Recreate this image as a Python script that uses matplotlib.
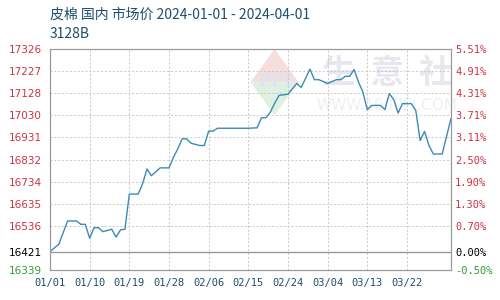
import matplotlib
matplotlib.use('Agg')
import matplotlib.pyplot as plt
import matplotlib.dates as mdates
from matplotlib.patches import Polygon
import pandas as pd

# data
dates = ['2024-01-01', '2024-01-03', '2024-01-04', '2024-01-05', '2024-01-07', '2024-01-08',
         '2024-01-09', '2024-01-10', '2024-01-11', '2024-01-12', '2024-01-13', '2024-01-15',
         '2024-01-16', '2024-01-17', '2024-01-18', '2024-01-19', '2024-01-21', '2024-01-22',
         '2024-01-23', '2024-01-24', '2024-01-26', '2024-01-28', '2024-01-29', '2024-01-30',
         '2024-01-31', '2024-02-01', '2024-02-02', '2024-02-04', '2024-02-05', '2024-02-06',
         '2024-02-07', '2024-02-08', '2024-02-15', '2024-02-17', '2024-02-18', '2024-02-19',
         '2024-02-20', '2024-02-21', '2024-02-22', '2024-02-24', '2024-02-26', '2024-02-27',
         '2024-02-29', '2024-03-01', '2024-03-02', '2024-03-04', '2024-03-06', '2024-03-07',
         '2024-03-08', '2024-03-09', '2024-03-10', '2024-03-11', '2024-03-12', '2024-03-13',
         '2024-03-14', '2024-03-16', '2024-03-17', '2024-03-18', '2024-03-19', '2024-03-20',
         '2024-03-21', '2024-03-23', '2024-03-24', '2024-03-25', '2024-03-26', '2024-03-27',
         '2024-03-28', '2024-03-30', '2024-04-01']
prices = [16421, 16454, 16506, 16558, 16558, 16543,
          16543, 16481, 16528, 16528, 16510, 16521,
          16486, 16518, 16521, 16678, 16678, 16723,
          16790, 16760, 16795, 16795, 16842, 16880,
          16925, 16925, 16905, 16895, 16895, 16959,
          16959, 16972, 16972, 16974, 17019, 17019,
          17044, 17084, 17119, 17124, 17172, 17154,
          17236, 17189, 17189, 17172, 17189, 17189,
          17204, 17204, 17234, 17179, 17134, 17055,
          17074, 17074, 17055, 17127, 17100, 17040,
          17082, 17082, 17052, 16917, 16958, 16895,
          16857, 16857, 17015]

base = 16421
y_low, y_high = 16338.9, 17325.8
left_ticks = [16339, 16421, 16536, 16635, 16734, 16832, 16931, 17030, 17128, 17227, 17326]
right_labels = ['-0.50%', '0.00%', '0.70%', '1.30%', '1.90%', '2.50%', '3.11%', '3.71%',
                '4.31%', '4.91%', '5.51%']
x_ticks = ['2024-01-01', '2024-01-10', '2024-01-19', '2024-01-28', '2024-02-06',
           '2024-02-15', '2024-02-24', '2024-03-04', '2024-03-13', '2024-03-22']

title = '皮棉 国内 市场价 2024-01-01 - 2024-04-01'
subtitle = '3128B'

red = '#cc3344'
green = '#339933'
navy = '#1d4f6e'

d = pd.to_datetime(dates)

fig = plt.figure(figsize=(5, 3), dpi=100)
ax = fig.add_axes([0.1, 0.1, 0.802, 0.7367])

# watermark
ax.text(0.84, 0.89, '生  意  社', transform=ax.transAxes, ha='center', va='center',
        fontsize=24, color='#e6e8ee', family=['Noto Sans CJK SC'], fontweight='bold', zorder=0)
ax.text(0.84, 0.745, 'WWW.100PPI.COM', transform=ax.transAxes, ha='center', va='center',
        fontsize=11, color='#eef0f2', zorder=0)
ax.add_patch(Polygon([(0.56, 1.0), (0.50, 0.85), (0.62, 0.85)], closed=True,
                     transform=ax.transAxes, color='#f6dede', zorder=0, lw=0))
ax.add_patch(Polygon([(0.50, 0.85), (0.62, 0.85), (0.56, 0.70)], closed=True,
                     transform=ax.transAxes, color='#def0df', zorder=0, lw=0))
ax.text(0.56, 0.85, 'PPI', transform=ax.transAxes, ha='center', va='center',
        fontsize=13, color='#dde3ee', fontweight='bold', zorder=0, family='serif')

ax.plot(d, prices, color='#3b8bb5', lw=1.0, zorder=3)

ax.set_xlim(pd.Timestamp('2024-01-01'), pd.Timestamp('2024-04-01'))
ax.set_ylim(y_low, y_high)

ax.set_yticks(left_ticks)
ax.set_yticklabels([str(v) for v in left_ticks], fontsize=7.5)
for lab, v in zip(ax.get_yticklabels(), left_ticks):
    lab.set_color('black' if v == base else (green if v < base else red))

ax.set_xticks(pd.to_datetime(x_ticks))
ax.xaxis.set_major_formatter(mdates.DateFormatter('%m/%d'))
for lab in ax.get_xticklabels():
    lab.set_fontsize(7.5)
    lab.set_color(navy)
    lab.set_family('DejaVu Sans Mono')

ax.tick_params(length=0, pad=6)
ax.grid(True, linestyle=(0, (2, 2)), color='#c8c8c8', lw=0.7)
for gl, v in zip(ax.get_ygridlines(), left_ticks):
    if v == base:
        gl.set_visible(False)
ax.axhline(base, color='#999999', lw=1.0, zorder=2)
for s in ax.spines.values():
    s.set_color('#999999')

ax2 = ax.twinx()
ax2.set_ylim(y_low, y_high)
ax2.set_yticks(left_ticks)
ax2.set_yticklabels(right_labels, fontsize=7.5, family='DejaVu Sans Mono')
for lab, v in zip(ax2.get_yticklabels(), left_ticks):
    lab.set_color('black' if v == base else (green if v < base else red))
ax2.tick_params(length=0, pad=3)
for s in ax2.spines.values():
    s.set_color('#999999')

fig.text(0.1, 0.95, title, fontsize=10, color=navy, va='center',
         family=['Noto Sans CJK SC', 'DejaVu Sans'])
fig.text(0.1, 0.888, subtitle, fontsize=10, color=navy, va='center',
         family=['Noto Sans CJK SC', 'DejaVu Sans'])

fig.savefig('out.png', dpi=100)
